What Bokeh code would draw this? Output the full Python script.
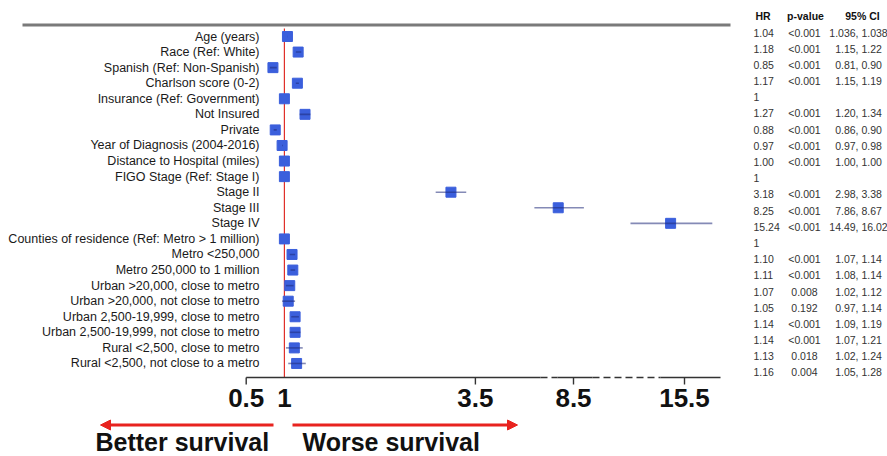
from bokeh.plotting import figure
from bokeh.models import ColumnDataSource, Range1d, CustomJSTransform, Arrow, NormalHead
from bokeh.transform import transform
from bokeh.core.properties import value
from bokeh.embed import file_html
from bokeh.resources import INLINE

# ---------------- data ----------------
labels = [
    "Age (years)", "Race (Ref: White)", "Spanish (Ref: Non-Spanish)", "Charlson score (0-2)",
    "Insurance (Ref: Government)", "Not Insured", "Private", "Year of Diagnosis (2004-2016)",
    "Distance to Hospital (miles)", "FIGO Stage (Ref: Stage I)", "Stage II", "Stage III", "Stage IV",
    "Counties of residence (Ref: Metro > 1 million)", "Metro <250,000", "Metro 250,000 to 1 million",
    "Urban >20,000, close to metro", "Urban >20,000, not close to metro",
    "Urban 2,500-19,999, close to metro", "Urban 2,500-19,999, not close to metro",
    "Rural <2,500, close to metro", "Rural <2,500, not close to a metro",
]
hr = [1.04, 1.18, 0.85, 1.17, 1, 1.27, 0.88, 0.97, 1.00, 1, 3.18, 8.25, 15.24, 1,
      1.10, 1.11, 1.07, 1.05, 1.14, 1.14, 1.13, 1.16]
ci_low = [1.036, 1.15, 0.81, 1.15, None, 1.20, 0.86, 0.97, 1.00, None, 2.98, 7.86, 14.49, None,
          1.07, 1.08, 1.02, 0.97, 1.09, 1.07, 1.02, 1.05]
ci_high = [1.038, 1.22, 0.90, 1.19, None, 1.34, 0.90, 0.98, 1.00, None, 3.38, 8.67, 16.02, None,
           1.14, 1.14, 1.12, 1.14, 1.19, 1.21, 1.24, 1.28]
hr_text = ["1.04", "1.18", "0.85", "1.17", "1", "1.27", "0.88", "0.97", "1.00", "1", "3.18", "8.25",
           "15.24", "1", "1.10", "1.11", "1.07", "1.05", "1.14", "1.14", "1.13", "1.16"]
p_text = ["<0.001", "<0.001", "<0.001", "<0.001", "", "<0.001", "<0.001", "<0.001", "<0.001", "",
          "<0.001", "<0.001", "<0.001", "", "<0.001", "<0.001", "0.008", "0.192", "<0.001",
          "<0.001", "0.018", "0.004"]
ci_text = ["1.036, 1.038", "1.15, 1.22", "0.81, 0.90", "1.15, 1.19", "", "1.20, 1.34", "0.86, 0.90",
           "0.97, 0.98", "1.00, 1.00", "", "2.98, 3.38", "7.86, 8.67", "14.49, 16.02", "",
           "1.07, 1.14", "1.08, 1.14", "1.02, 1.12", "0.97, 1.14", "1.09, 1.19", "1.07, 1.21",
           "1.02, 1.24", "1.05, 1.28"]
table_headers = ["HR", "p-value", "95% CI"]
tick_values = [0.5, 1, 3.5, 8.5, 15.5]
tick_labels = ["0.5", "1", "3.5", "8.5", "15.5"]
tick_marks = [0.5, 3.5, 8.5, 15.5]
ref_value = 1
left_text = "Better survival"
right_text = "Worse survival"

# ---------------- layout ----------------
W, H = 887, 456
OFF = 0
PX = 76.4          # pixels per HR unit on the linear part
X_ONE = 283.9      # page x of HR = 1
ROW0, ROW_H = 36.0, 15.57
TROW0, TROW_H = 32.0, 16.19


def dx(px):
    return 1 + (px - X_ONE) / PX


def dy(py):
    return (py - ROW0) / ROW_H


B2, S2 = dx(573), 0.8
B3, S3 = dx(684), 0.7

brk = CustomJSTransform(
    args=dict(b2=B2, s2=S2, b3=B3, s3=S3),
    func="""
        if (x < 5) return x;
        if (x < 12) return b2 + (x - 8.5) * s2;
        return b3 + (x - 15.5) * s3;
    """,
    v_func="""
        const out = new Array(xs.length);
        for (let i = 0; i < xs.length; i++) {
            const x = xs[i];
            if (x < 5) out[i] = x;
            else if (x < 12) out[i] = b2 + (x - 8.5) * s2;
            else out[i] = b3 + (x - 15.5) * s3;
        }
        return out;
    """,
)

p = figure(
    width=W, height=H,
    x_range=Range1d(dx(OFF), dx(OFF + W)),
    y_range=Range1d(dy(OFF + H), dy(OFF)),
    x_axis_type=None, y_axis_type=None,
    output_backend="svg", toolbar_location=None,
    min_border=0, min_border_left=0, min_border_right=0, min_border_top=0, min_border_bottom=0,
)
p.extra_y_ranges = {"tbl": Range1d((OFF + H - TROW0) / TROW_H, (OFF - TROW0) / TROW_H)}
p.grid.visible = False
p.outline_line_color = None
p.background_fill_color = "white"
p.border_fill_color = "white"

rows = list(range(len(labels)))
src = ColumnDataSource(dict(row=rows, label=labels, hr=hr, hr_text=hr_text, p_text=p_text, ci_text=ci_text))
ci_rows = [i for i in rows if ci_low[i] is not None]
ci_src = ColumnDataSource(dict(row=ci_rows, lo=[ci_low[i] for i in ci_rows], hi=[ci_high[i] for i in ci_rows]))

FONT = value("Liberation Sans")

# header line
p.segment(x0=dx(22), x1=dx(730), y0=dy(24.5), y1=dy(24.5), line_color="#7a7a7a", line_width=3)

# reference line
p.segment(x0=ref_value, x1=ref_value, y0=dy(28), y1=dy(377), line_color="#e0302a", line_width=1.2)

# squares and CIs
p.scatter(x=transform("hr", brk), y="row", source=src, marker="square", size=10,
          fill_color="#3b5fdc", line_color="#3b5fdc")
p.segment(x0=transform("lo", brk), x1=transform("hi", brk), y0="row", y1="row", source=ci_src,
          line_color="#1f2a7a", line_alpha=0.55, line_width=1.6)

# row labels
p.text(x=dx(259), y="row", text="label", source=src, text_align="right", text_baseline="middle",
       text_font=FONT, text_font_size=value("12.5px"), text_color="#1a1a1a")

# table
p.text(x=dx(753), y="row", text="hr_text", source=src, y_range_name="tbl", text_align="left",
       text_baseline="middle", text_font=FONT, text_font_size=value("10.5px"), text_color="#333333")
p.text(x=dx(804), y="row", text="p_text", source=src, y_range_name="tbl", text_align="center",
       text_baseline="middle", text_font=FONT, text_font_size=value("10.5px"), text_color="#333333")
p.text(x=dx(858), y="row", text="ci_text", source=src, y_range_name="tbl", text_align="center",
       text_baseline="middle", text_font=FONT, text_font_size=value("10.5px"), text_color="#333333")
hdr_src = ColumnDataSource(dict(x=[dx(755), dx(805), dx(862)], y=[-1, -1, -1], t=table_headers,
                                a=["left", "center", "center"]))
p.text(x="x", y="y", text="t", text_align="a", source=hdr_src, y_range_name="tbl",
       text_baseline="middle", text_font=FONT, text_font_size=value("10.5px"),
       text_font_style="bold", text_color="#111111")

# broken x axis
ay = dy(377)
solid = [(dx(245.7), dx(540)), (dx(557), dx(592)), (dx(660), dx(720))]
dashed = [(dx(540), dx(557)), (dx(592), dx(660))]
p.segment(x0=[a for a, b in solid], x1=[b for a, b in solid], y0=ay, y1=ay,
          line_color="#333333", line_width=1.6)
p.segment(x0=[a for a, b in dashed], x1=[b for a, b in dashed], y0=ay, y1=ay,
          line_color="#333333", line_width=1.6, line_dash="7 4")
tm_src = ColumnDataSource(dict(v=tick_marks))
p.segment(x0=transform("v", brk), x1=transform("v", brk), y0=ay, y1=dy(384), source=tm_src,
          line_color="#333333", line_width=1.4)
tl_src = ColumnDataSource(dict(v=tick_values, t=tick_labels))
p.text(x=transform("v", brk), y=dy(397), text="t", source=tl_src, text_align="center",
       text_baseline="middle", text_font=FONT, text_font_size=value("26px"),
       text_font_style="bold", text_color="#111111")

# arrows
RED = "#e8231f"
ar_y = dy(424.5)
p.add_layout(Arrow(end=NormalHead(size=10, fill_color=RED, line_color=RED),
                   x_start=dx(273), y_start=ar_y, x_end=dx(100), y_end=ar_y,
                   line_color=RED, line_width=3))
p.add_layout(Arrow(end=NormalHead(size=10, fill_color=RED, line_color=RED),
                   x_start=dx(292), y_start=ar_y, x_end=dx(517), y_end=ar_y,
                   line_color=RED, line_width=3))
p.text(x=[dx(95), dx(302)], y=[dy(455), dy(455)], text=[left_text, right_text],
       text_align="left", text_baseline="bottom", text_font=FONT,
       text_font_size=value("25px"), text_font_style="bold", text_color="#111111")

open("out.html", "w").write(file_html(p, INLINE))
